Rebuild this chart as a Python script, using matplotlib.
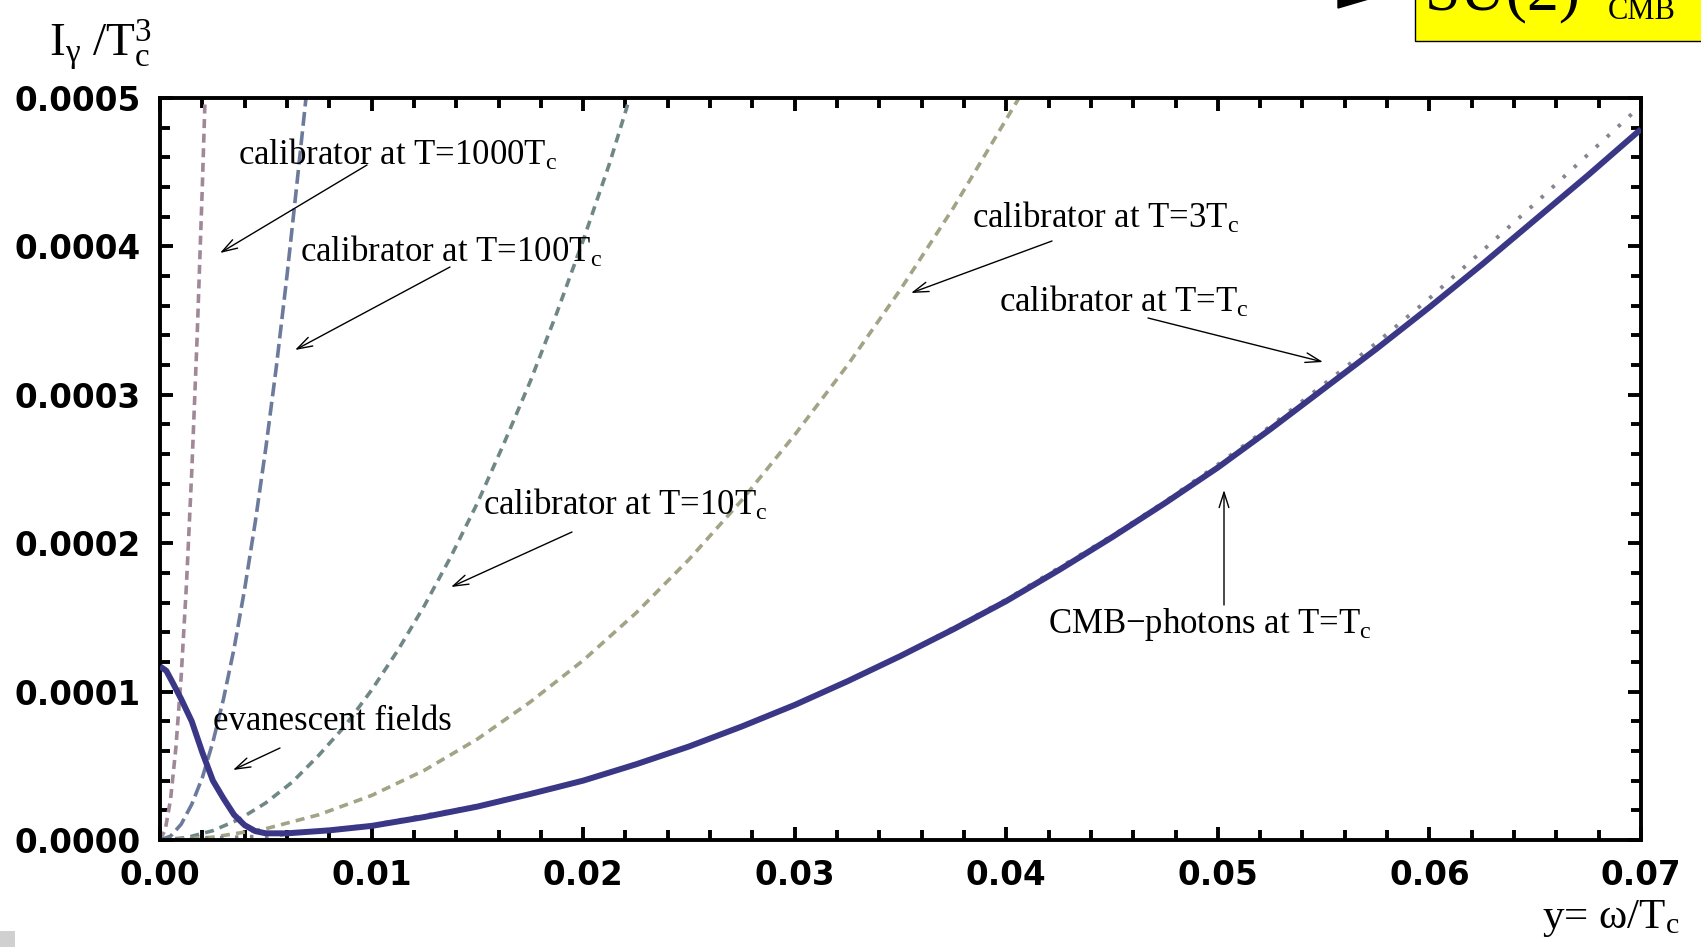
import matplotlib
matplotlib.use('Agg')
import matplotlib.pyplot as plt
from matplotlib.patches import Rectangle, Polygon

W, H = 1701, 947

plt.rcParams['mathtext.fontset'] = 'custom'
plt.rcParams['mathtext.rm'] = 'Liberation Serif'
plt.rcParams['mathtext.it'] = 'Liberation Serif:italic'
plt.rcParams['mathtext.bf'] = 'Liberation Serif:bold'
plt.rcParams['lines.scale_dashes'] = False
plt.rcParams['font.family'] = 'DejaVu Sans'
plt.rcParams['font.weight'] = 'normal'

# ---------------- data ----------------
cmb_x = [0.0, 0.0003, 0.0006, 0.001, 0.0015, 0.002, 0.0025, 0.003, 0.0035, 0.004,
         0.0045, 0.005, 0.006, 0.008, 0.010, 0.0125, 0.015, 0.0175, 0.020, 0.0225,
         0.025, 0.0275, 0.030, 0.0325, 0.035, 0.0375, 0.040, 0.0425, 0.045, 0.0475,
         0.050, 0.0525, 0.055, 0.0575, 0.060, 0.0625, 0.065, 0.0675, 0.070]
cmb_y = [1.17e-4, 1.14e-4, 1.06e-4, 0.95e-4, 0.80e-4, 0.59e-4, 0.40e-4, 0.28e-4, 0.17e-4, 0.10e-4,
         0.06e-4, 0.045e-4, 0.045e-4, 0.065e-4, 0.095e-4, 0.155e-4, 0.225e-4, 0.31e-4, 0.40e-4, 0.51e-4,
         0.63e-4, 0.765e-4, 0.91e-4, 1.07e-4, 1.24e-4, 1.42e-4, 1.61e-4, 1.82e-4, 2.04e-4, 2.27e-4,
         2.51e-4, 2.77e-4, 3.04e-4, 3.31e-4, 3.59e-4, 3.88e-4, 4.18e-4, 4.48e-4, 4.79e-4]

cal1_x = [0.0, 0.005, 0.01, 0.015, 0.02, 0.025, 0.03, 0.035, 0.04, 0.045, 0.0475, 0.05,
          0.0525, 0.055, 0.0575, 0.06, 0.0625, 0.065, 0.0675, 0.07]
cal1_y = [0.0, 0.025e-4, 0.10e-4, 0.23e-4, 0.40e-4, 0.63e-4, 0.91e-4, 1.24e-4, 1.62e-4, 2.05e-4,
          2.28e-4, 2.53e-4, 2.79e-4, 3.07e-4, 3.35e-4, 3.65e-4, 3.97e-4, 4.29e-4, 4.62e-4, 4.95e-4]

cal3_x = [0.0, 0.0025, 0.005, 0.0075, 0.01, 0.0125, 0.015, 0.0175, 0.02, 0.0225, 0.025,
          0.0275, 0.03, 0.0325, 0.035, 0.0375, 0.0406]
cal3_y = [0.0, 0.019e-4, 0.076e-4, 0.17e-4, 0.30e-4, 0.47e-4, 0.68e-4, 0.93e-4, 1.21e-4, 1.53e-4,
          1.89e-4, 2.29e-4, 2.73e-4, 3.20e-4, 3.71e-4, 4.26e-4, 5.0e-4]

cal10_x = [0.0, 0.00125, 0.0025, 0.00375, 0.005, 0.00625, 0.0075, 0.00875, 0.01, 0.01125,
           0.0125, 0.01375, 0.015, 0.01625, 0.0175, 0.01875, 0.02, 0.02125, 0.0222]
cal10_y = [0.0, 0.016e-4, 0.063e-4, 0.14e-4, 0.25e-4, 0.39e-4, 0.57e-4, 0.77e-4, 1.01e-4, 1.28e-4,
           1.58e-4, 1.91e-4, 2.27e-4, 2.67e-4, 3.09e-4, 3.55e-4, 4.04e-4, 4.56e-4, 5.0e-4]

cal100_x = [0.0, 0.0005, 0.001, 0.0015, 0.002, 0.0025, 0.003, 0.0035, 0.004, 0.0045, 0.005,
            0.0055, 0.006, 0.0065, 0.0069]
cal100_y = [0.0, 0.026e-4, 0.106e-4, 0.24e-4, 0.42e-4, 0.66e-4, 0.95e-4, 1.29e-4, 1.69e-4,
            2.14e-4, 2.64e-4, 3.19e-4, 3.80e-4, 4.46e-4, 5.0e-4]

cal1000_x = [0.0, 0.00025, 0.0005, 0.00075, 0.001, 0.00125, 0.0015, 0.00175, 0.002, 0.00213]
cal1000_y = [0.0, 0.07e-4, 0.275e-4, 0.62e-4, 1.10e-4, 1.72e-4, 2.48e-4, 3.37e-4, 4.40e-4, 5.0e-4]

x_ticks = [0.00, 0.01, 0.02, 0.03, 0.04, 0.05, 0.06, 0.07]
x_ticklabels = ['0.00', '0.01', '0.02', '0.03', '0.04', '0.05', '0.06', '0.07']
y_ticks = [0.0, 0.0001, 0.0002, 0.0003, 0.0004, 0.0005]
y_ticklabels = ['0.0000', '0.0001', '0.0002', '0.0003', '0.0004', '0.0005']
x_minor = [0.002 * i for i in range(36)]
y_minor = [0.00002 * i for i in range(26)]

# ---------------- figure ----------------
def fp(X, Y):
    """full-size pixel (from top-left) -> figure fraction"""
    return (X / W, 1 - Y / H)

fig = plt.figure(figsize=(W / 100, H / 100), dpi=100)
fig.patch.set_facecolor('white')
ax = fig.add_axes([160 / W, 1 - 840 / H, (1641 - 160) / W, (840 - 98) / H])

ax.plot(cal1000_x, cal1000_y, color='#a08898', lw=2.6, ls=(0, (6.5, 4)), zorder=2)
ax.plot(cal100_x, cal100_y, color='#6c7a9c', lw=2.6, ls=(0, (10, 4)), zorder=2)
ax.plot(cal10_x, cal10_y, color='#6f8886', lw=2.6, ls=(0, (6.5, 4.5)), zorder=2)
ax.plot(cal3_x, cal3_y, color='#a3a386', lw=2.6, ls=(0, (6.5, 4.5)), zorder=2)
ax.plot(cal1_x, cal1_y, color='#85858f', lw=2.8, ls=(0, (2.5, 8.3)), zorder=2)
ax.plot(cmb_x, cmb_y, color='#3b3787', lw=4.3, solid_capstyle='butt', zorder=3)

ax.set_xlim(0.0, 0.07)
ax.set_ylim(0.0, 0.0005)
ax.set_xticks(x_ticks)
ax.set_xticklabels(x_ticklabels, fontweight='bold', fontsize=23.5)
ax.set_yticks(y_ticks)
ax.set_yticklabels(y_ticklabels, fontweight='bold', fontsize=23.5)
ax.set_xticks(x_minor, minor=True)
ax.set_yticks(y_minor, minor=True)
ax.tick_params(which='both', direction='in', top=True, right=True, width=2.8,
               pad=14, colors='black')
ax.tick_params(which='major', length=9.5)
ax.tick_params(which='minor', length=7)
for s in ax.spines.values():
    s.set_linewidth(2.8)

serif = dict(family='Liberation Serif', fontweight='normal', color='black')

# axis labels
fig.text(*fp(49, 56), r'I$_{\mathrm{γ}}$ /T$_{\mathrm{c}}^{3}$', fontsize=34,
         ha='left', va='baseline', **serif)
fig.text(*fp(1542, 928), r'y= ω/T$_{\mathrm{c}}$', fontsize=31,
         ha='left', va='baseline', **serif)

# annotations: (text, text-left/baseline, arrow tail, arrow tip)
notes = [
    (r'calibrator at T=1000T$_{\mathrm{c}}$', (238, 165), (367, 165), (220, 253)),
    (r'calibrator at T=100T$_{\mathrm{c}}$', (300, 262), (450, 267), (295, 350)),
    (r'calibrator at T=10T$_{\mathrm{c}}$', (483, 515), (572, 532), (451, 587)),
    (r'calibrator at T=3T$_{\mathrm{c}}$', (972, 228), (1052, 241), (911, 293)),
    (r'calibrator at T=T$_{\mathrm{c}}$', (999, 312), (1148, 318), (1323, 362)),
    (r'CMB$-$photons at T=T$_{\mathrm{c}}$', (1048, 633), (1224, 605), (1224, 490)),
    ('evanescent fields', (213, 730), (280, 748), (233, 770)),
]
for txt, tpos, tail, tip in notes:
    fig.text(*fp(*tpos), txt, fontsize=25, ha='left', va='baseline', **serif)
    ax.annotate('', xy=fp(*tip), xytext=fp(*tail), xycoords='figure fraction',
                textcoords='figure fraction',
                arrowprops=dict(arrowstyle='->,head_length=1.1,head_width=0.35',
                                lw=1.0, color='black', shrinkA=0, shrinkB=0))

# top-right yellow box (cut off by the image border, as in the reference)
fig.add_artist(Rectangle(fp(1415, 41), 400 / W, 80 / H, transform=fig.transFigure,
                         facecolor='#ffff00', edgecolor='black', lw=1.0))
fig.text(*fp(1425, 9), 'SU(2)', fontsize=46, ha='left', va='baseline', **serif)
fig.text(*fp(1642, 19), 'CMB', fontsize=22, ha='center', va='baseline', **serif)
fig.add_artist(Polygon([fp(1338, 8), fp(1372, -2), fp(1338, -14)], closed=True,
                       transform=fig.transFigure, facecolor='black', edgecolor='black'))
# small grey square bottom-left
fig.add_artist(Rectangle(fp(0, 947), 15 / W, 16 / H, transform=fig.transFigure,
                         facecolor='#d0d0d0', edgecolor='none'))

fig.savefig('out.png', dpi=100, facecolor='white')
